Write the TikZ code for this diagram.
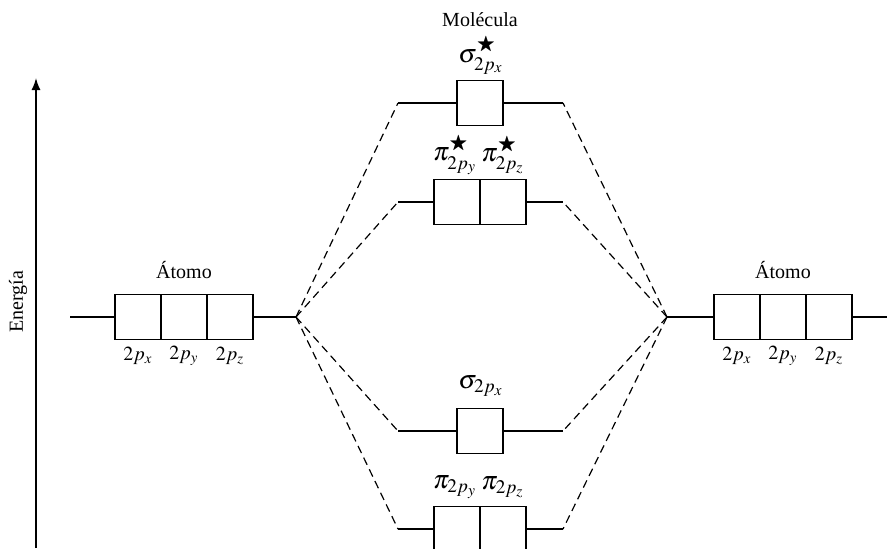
\documentclass[tikz,border=0pt]{standalone}
\usepackage{amsmath,amssymb}
\usepackage{mathptmx}
\usepackage{fontspec}
\setmainfont{Liberation Serif}
\usetikzlibrary{arrows.meta}

\begin{document}
\begin{tikzpicture}[x=0.5pt, y=-0.5pt, every node/.style={font=\normalsize}, >={Latex[length=6pt,width=4.5pt]},
	orb/.style={draw, line width=0.75pt, minimum width=23pt, minimum height=22.5pt, inner sep=0pt, outer sep=0pt},
	mo/.style={font=\fontsize{13}{15}\selectfont},
	lvl/.style={line width=0.6pt},
	corr/.style={line width=0.6pt, dash pattern=on 4pt off 2.5pt}]
	\useasboundingbox (0,0) rectangle (887,548);
	% eje de energia
	\coordinate (e0) at (36,548);
	\coordinate (e1) at (36,78);
	\draw[->, line width=0.75pt] (e0) -- (e1);
	\node[rotate=90] (en) at (18,302) {Energía};
	% atomo izquierdo
	\node[orb] (La) at (138,317) {};
	\node[orb] (Lb) at (184,317) {};
	\node[orb] (Lc) at (230,317) {};
	\coordinate (Lst) at (70,317);
	\coordinate (JL) at (296,317);
	\draw[lvl] (Lst) -- (La.west);
	\draw[lvl] (Lc.east) -- (JL);
	\node (atL) at (184,270) {Átomo};
	\node (pxL) at (138,356) {$2p_x$};
	\node (pyL) at (184,356) {$2p_y$};
	\node (pzL) at (230,356) {$2p_z$};
	% atomo derecho
	\node[orb] (Ra) at (737,317) {};
	\node[orb] (Rb) at (783,317) {};
	\node[orb] (Rc) at (829,317) {};
	\coordinate (JR) at (667,317);
	\coordinate (Rst) at (887,317);
	\draw[lvl] (JR) -- (Ra.west);
	\draw[lvl] (Rc.east) -- (Rst);
	\node (atR) at (783,270) {Átomo};
	\node (pxR) at (737,356) {$2p_x$};
	\node (pyR) at (783,356) {$2p_y$};
	\node (pzR) at (829,356) {$2p_z$};
	% molecula
	\node (mol) at (480,20) {Molécula};
	\node[orb] (ss) at (480,103) {};
	\coordinate (ssL) at (398,103);
	\coordinate (ssR) at (563,103);
	\draw[lvl] (ssL) -- (ss.west);
	\draw[lvl] (ss.east) -- (ssR);
	\node[mo] (ssl) at (481,55) {$\sigma^{\bigstar}_{2p_x}$};
	\node[orb] (ps1) at (457,202) {};
	\node[orb] (ps2) at (503,202) {};
	\coordinate (psL) at (398,202);
	\coordinate (psR) at (563,202);
	\draw[lvl] (psL) -- (ps1.west);
	\draw[lvl] (ps2.east) -- (psR);
	\node[mo] (ps1l) at (455,155) {$\pi^{\bigstar}_{2p_y}$};
	\node[mo] (ps2l) at (503,155) {$\pi^{\bigstar}_{2p_z}$};
	\node[orb] (s) at (480,431) {};
	\coordinate (sL) at (398,431);
	\coordinate (sR) at (563,431);
	\draw[lvl] (sL) -- (s.west);
	\draw[lvl] (s.east) -- (sR);
	\node[mo] (sl) at (481,386) {$\sigma_{2p_x}$};
	\node[orb] (p1) at (457,529) {};
	\node[orb] (p2) at (503,529) {};
	\coordinate (pL) at (398,529);
	\coordinate (pR) at (563,529);
	\draw[lvl] (pL) -- (p1.west);
	\draw[lvl] (p2.east) -- (pR);
	\node[mo] (p1l) at (455,487) {$\pi_{2p_y}$};
	\node[mo] (p2l) at (503,487) {$\pi_{2p_z}$};
	% correlacion
	\foreach \lv in {ss,ps,s,p} {\draw[corr] (JL) -- (\lv L); \draw[corr] (JR) -- (\lv R);}
\end{tikzpicture}
\end{document}
